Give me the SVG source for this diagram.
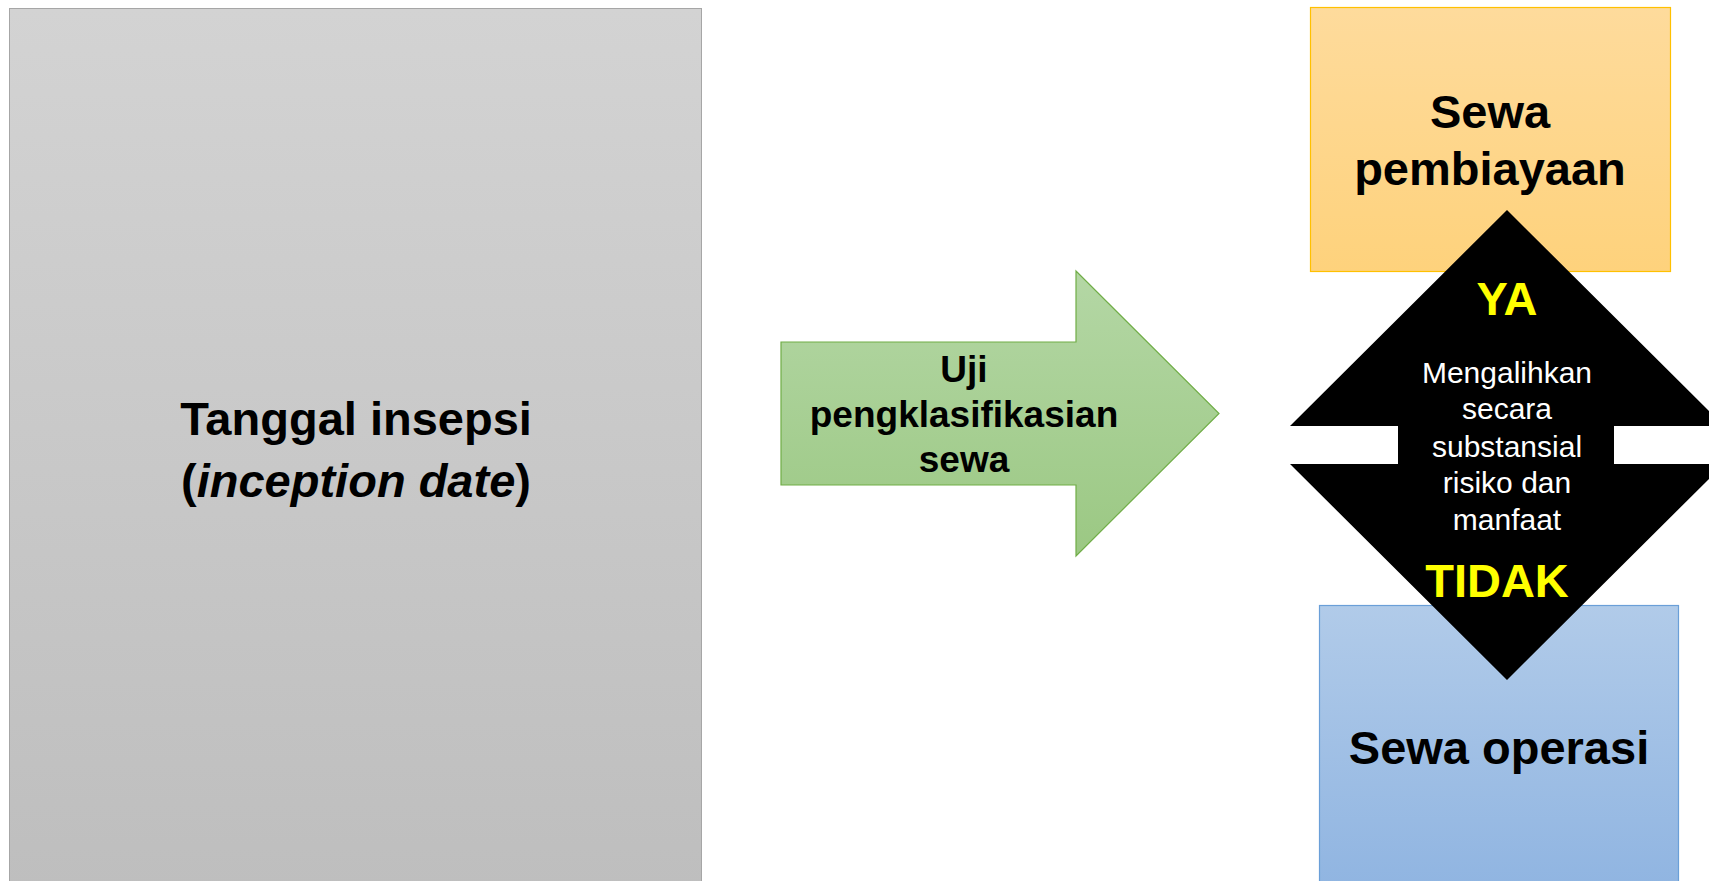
<svg xmlns="http://www.w3.org/2000/svg" width="1709" height="881" viewBox="0 0 1709 881">
<defs>
<linearGradient id="gGray" x1="0" y1="0" x2="0" y2="1"><stop offset="0" stop-color="#D3D3D3"/><stop offset="1" stop-color="#BEBEBE"/></linearGradient>
<linearGradient id="gGreen" x1="0" y1="0" x2="0" y2="1"><stop offset="0" stop-color="#B4D7A5"/><stop offset="1" stop-color="#9BC883"/></linearGradient>
<linearGradient id="gOrange" x1="0" y1="0" x2="0" y2="1"><stop offset="0" stop-color="#FEDB9C"/><stop offset="1" stop-color="#FED27C"/></linearGradient>
<linearGradient id="gBlue" x1="0" y1="0" x2="0" y2="1"><stop offset="0" stop-color="#B1CBE9"/><stop offset="1" stop-color="#8FB4E1"/></linearGradient>
</defs>
<style>
text{font-family:"Liberation Sans",Arial,sans-serif;text-anchor:middle}
.b{font-weight:bold;fill:#000}
.big{font-size:47px}
.mid{font-size:37px}
.y{font-weight:bold;fill:#FFFF00;font-size:47px}
.w{fill:#FFFFFF;font-size:30px}
</style>
<rect width="1709" height="881" fill="#FFFFFF"/>
<g id="inception">
<rect x="9.5" y="8.5" width="692" height="880" fill="url(#gGray)" stroke="#A6A6A6" stroke-width="1"/>
<text class="b big" x="356" y="435">Tanggal insepsi</text>
<text class="b big" x="356" y="497">(<tspan font-style="italic">inception date</tspan>)</text>
</g>
<g id="connectors">
<g id="test-arrow">
<polygon points="781,342 1076,342 1076,271 1219,413.5 1076,556 1076,485 781,485" fill="url(#gGreen)" stroke="#70AD47" stroke-width="1.2"/>
<text class="b mid" x="964" y="382">Uji</text>
<text class="b mid" x="964" y="427">pengklasifikasian</text>
<text class="b mid" x="964" y="472">sewa</text>
</g>
</g>
<g id="finance-lease">
<rect x="1310.5" y="7.5" width="360" height="264" fill="url(#gOrange)" stroke="#FFC000" stroke-width="1.2"/>
<text class="b big" x="1490" y="128">Sewa</text>
<text class="b big" x="1490" y="185">pembiayaan</text>
</g>
<g id="operating-lease">
<rect x="1319.5" y="605.5" width="359" height="290" fill="url(#gBlue)" stroke="#6A9FD8" stroke-width="1.2"/>
<text class="b big" x="1499" y="764">Sewa operasi</text>
</g>
<g id="decision">
<polygon points="1507,210 1724,426 1614,426 1614,464 1724,464 1507,680 1290,464 1398,464 1398,426 1290,426" fill="#000000"/>
<text class="y" x="1507" y="315">YA</text>
<text class="w" x="1507" y="383">Mengalihkan</text>
<text class="w" x="1507" y="419">secara</text>
<text class="w" x="1507" y="457">substansial</text>
<text class="w" x="1507" y="493">risiko dan</text>
<text class="w" x="1507" y="530">manfaat</text>
<text class="y" x="1497" y="597">TIDAK</text>
</g>
</svg>
